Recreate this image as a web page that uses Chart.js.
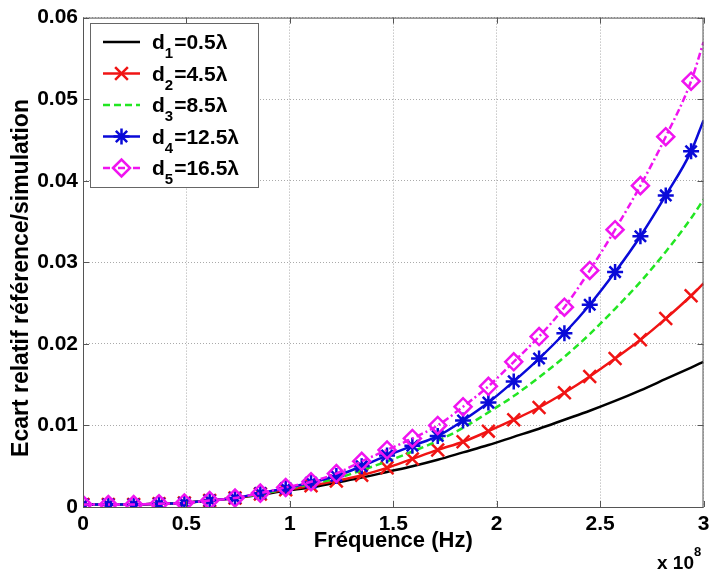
<!DOCTYPE html>
<html>
<head>
<meta charset="utf-8">
<script src="https://cdn.jsdelivr.net/npm/chart.js@4.4.1/dist/chart.umd.min.js"></script>
<style>
  html, body { margin: 0; padding: 0; background: #fff; }
  canvas { display: block; }
</style>
</head>
<body>
<canvas id="ecartChart" width="715" height="573"></canvas>
<script>
// Frequency in units of 1e8 Hz (markers every step, last point = axis end)
const freq = [0, 0.1225, 0.245, 0.3675, 0.49, 0.6125, 0.735, 0.8575, 0.98, 1.1025, 1.225, 1.3475, 1.47,
  1.5925, 1.715, 1.8375, 1.96, 2.0825, 2.205, 2.3275, 2.45, 2.5725, 2.695, 2.8175, 2.94, 3.0];

// Relative gap reference/simulation for each distance
const d1 = [0.0003, 0.0003, 0.0003, 0.0004, 0.0005, 0.0008, 0.0011, 0.0015, 0.0020, 0.0024, 0.0030, 0.0036, 0.0043,
  0.0050, 0.0058, 0.0067, 0.0076, 0.0086, 0.0096, 0.0107, 0.0118, 0.0130, 0.0143, 0.0157, 0.0171, 0.0178];
const d2 = [0.0003, 0.0003, 0.0003, 0.0004, 0.0005, 0.0008, 0.0011, 0.0016, 0.0021, 0.0026, 0.0032, 0.0039, 0.0048,
  0.0059, 0.0070, 0.0080, 0.0093, 0.0107, 0.0122, 0.0140, 0.0160, 0.0182, 0.0205, 0.0231, 0.0259, 0.0274];
const d3 = [0.0003, 0.0003, 0.0003, 0.0004, 0.0005, 0.0008, 0.0011, 0.0016, 0.0022, 0.0028, 0.0035, 0.0045, 0.0056,
  0.0068, 0.0081, 0.0097, 0.0116, 0.0136, 0.0159, 0.0184, 0.0212, 0.0243, 0.0276, 0.0313, 0.0354, 0.0377];
const d4 = [0.0003, 0.0003, 0.0003, 0.0004, 0.0005, 0.0008, 0.0011, 0.0017, 0.0023, 0.0030, 0.0038, 0.0050, 0.0063,
  0.0075, 0.0087, 0.0106, 0.0128, 0.0154, 0.0182, 0.0213, 0.0248, 0.0288, 0.0332, 0.0382, 0.0436, 0.0474];
const d5 = [0.0003, 0.0003, 0.0003, 0.0004, 0.0005, 0.0008, 0.0011, 0.0017, 0.0024, 0.0031, 0.0041, 0.0056, 0.0070,
  0.0084, 0.0100, 0.0123, 0.0148, 0.0178, 0.0209, 0.0245, 0.0290, 0.0340, 0.0394, 0.0454, 0.0522, 0.0570];

const legendSubs = ['1', '2', '3', '4', '5'];
const legendValues = ['0.5', '4.5', '8.5', '12.5', '16.5'];

const FONT = "'Liberation Sans', Arial, sans-serif";

function toPoints(values) {
  return values.map((v, i) => ({ x: freq[i], y: v }));
}

// no marker on the final (axis-end) point
function markerRadius(r) {
  return (c) => (c.dataIndex === freq.length - 1 ? 0 : r);
}

const series = [
  { label: 'd1', data: d1, color: '#000000', dash: [], style: false, radius: 0, order: 5, width: 2.5 },
  { label: 'd2', data: d2, color: '#f01414', dash: [], style: 'crossRot', radius: 9, order: 4, width: 2.5 },
  { label: 'd3', data: d3, color: '#22e622', dash: [7, 4], style: false, radius: 0, order: 3, width: 2.5 },
  { label: 'd4', data: d4, color: '#0a0ad8', dash: [], style: 'star', radius: 8, order: 2, width: 2.5 },
  { label: 'd5', data: d5, color: '#f014f0', dash: [7, 3, 2, 3], style: 'rectRot', radius: 8.5, order: 1, width: 2.5 },
];

// Frame, inward ticks, custom legend with subscripts, y title, exponent
const decorPlugin = {
  id: 'decor',
  afterDraw(chart) {
    const { ctx, chartArea: a, scales } = chart;
    ctx.save();
    ctx.strokeStyle = '#555';
    ctx.lineWidth = 1;
    ctx.setLineDash([]);
    ctx.strokeRect(a.left + 0.5, a.top + 0.5, a.right - a.left - 1, a.bottom - a.top);
    ctx.beginPath();
    scales.x.ticks.forEach(t => {
      const x = Math.round(scales.x.getPixelForValue(t.value)) + 0.5;
      ctx.moveTo(x, a.bottom); ctx.lineTo(x, a.bottom - 6);
      ctx.moveTo(x, a.top); ctx.lineTo(x, a.top + 6);
    });
    scales.y.ticks.forEach(t => {
      const y = Math.round(scales.y.getPixelForValue(t.value)) + 0.5;
      ctx.moveTo(a.left, y); ctx.lineTo(a.left + 6, y);
      ctx.moveTo(a.right, y); ctx.lineTo(a.right - 6, y);
    });
    ctx.stroke();

    // legend
    const bx = 90, by = 23, bw = 168, bh = 164;
    ctx.fillStyle = '#fff';
    ctx.fillRect(bx, by, bw, bh);
    ctx.strokeStyle = '#666';
    ctx.strokeRect(bx + 0.5, by + 0.5, bw, bh);
    series.forEach((s, i) => {
      const y = 42 + i * 31.5;
      ctx.strokeStyle = s.color;
      ctx.lineWidth = s.width;
      ctx.setLineDash(s.dash);
      ctx.beginPath();
      ctx.moveTo(103, y); ctx.lineTo(140, y);
      ctx.stroke();
      ctx.setLineDash([]);
      if (s.style) {
        ctx.lineWidth = 2.5;
        ctx.fillStyle = 'rgba(0,0,0,0)';
        Chart.helpers.drawPoint(ctx, { pointStyle: s.style, radius: s.radius, rotation: 0, borderWidth: 2.5 }, 121.5, y);
      }
      ctx.fillStyle = '#000';
      ctx.textBaseline = 'alphabetic';
      ctx.textAlign = 'left';
      ctx.font = 'bold 21px ' + FONT;
      ctx.fillText('d', 152, y + 7);
      let x = 152 + ctx.measureText('d').width;
      ctx.font = 'bold 15px ' + FONT;
      ctx.fillText(legendSubs[i], x, y + 16);
      x += ctx.measureText(legendSubs[i]).width + 1;
      ctx.font = 'bold 21px ' + FONT;
      ctx.fillText('=' + legendValues[i] + 'λ', x, y + 7);
    });

    // y axis title
    ctx.fillStyle = '#000';
    ctx.save();
    ctx.translate(22, 278);
    ctx.rotate(-Math.PI / 2);
    ctx.font = 'bold 23px ' + FONT;
    ctx.textAlign = 'center';
    ctx.textBaseline = 'middle';
    ctx.fillText('Ecart relatif référence/simulation', 0, 0);
    ctx.restore();

    // x exponent
    ctx.font = 'bold 19px ' + FONT;
    ctx.textAlign = 'left';
    ctx.textBaseline = 'alphabetic';
    ctx.fillText('x 10', 657, 569);
    ctx.font = 'bold 13px ' + FONT;
    ctx.fillText('8', 694, 556);
    ctx.restore();
  }
};

const ctx = document.getElementById('ecartChart').getContext('2d');
const ecartChart = new Chart(ctx, {
  type: 'line',
  data: {
    datasets: series.map(s => ({
      label: s.label,
      data: toPoints(s.data),
      borderColor: s.color,
      borderWidth: s.width,
      borderDash: s.dash,
      backgroundColor: 'rgba(0,0,0,0)',
      pointStyle: s.style,
      pointRadius: markerRadius(s.radius),
      pointBorderColor: s.color,
      pointBackgroundColor: 'rgba(0,0,0,0)',
      pointBorderWidth: 2.5,
      cubicInterpolationMode: 'monotone',
      fill: false,
      order: s.order,
    })),
  },
  options: {
    responsive: false,
    animation: false,
    devicePixelRatio: 1,
    layout: { padding: { top: 16, right: 6, left: 0, bottom: 0 } },
    plugins: {
      legend: { display: false },
      tooltip: { enabled: false },
    },
    scales: {
      x: {
        type: 'linear',
        min: 0,
        max: 3,
        afterFit: (scale) => { scale.height = 66; },
        ticks: {
          stepSize: 0.5,
          padding: 5,
          color: '#000',
          font: { family: FONT, size: 21, weight: 'bold' },
          maxRotation: 0,
          callback: (v) => String(v),
        },
        grid: { color: '#aaa', drawTicks: false, lineWidth: 1 },
        border: { display: false, dash: [1, 2] },
        title: {
          display: true,
          text: 'Fréquence (Hz)',
          color: '#000',
          font: { family: FONT, size: 22, weight: 'bold' },
          padding: { top: 0, bottom: 19 },
        },
      },
      y: {
        min: 0,
        max: 0.06,
        afterFit: (scale) => { scale.width = 83; },
        ticks: {
          stepSize: 0.01,
          padding: 5,
          color: '#000',
          font: { family: FONT, size: 21, weight: 'bold' },
          callback: (v) => (v === 0 ? '0' : v.toFixed(2)),
        },
        grid: { color: '#aaa', drawTicks: false, lineWidth: 1 },
        border: { display: false, dash: [1, 2] },
      },
    },
  },
  plugins: [decorPlugin],
});
</script>
</body>
</html>
